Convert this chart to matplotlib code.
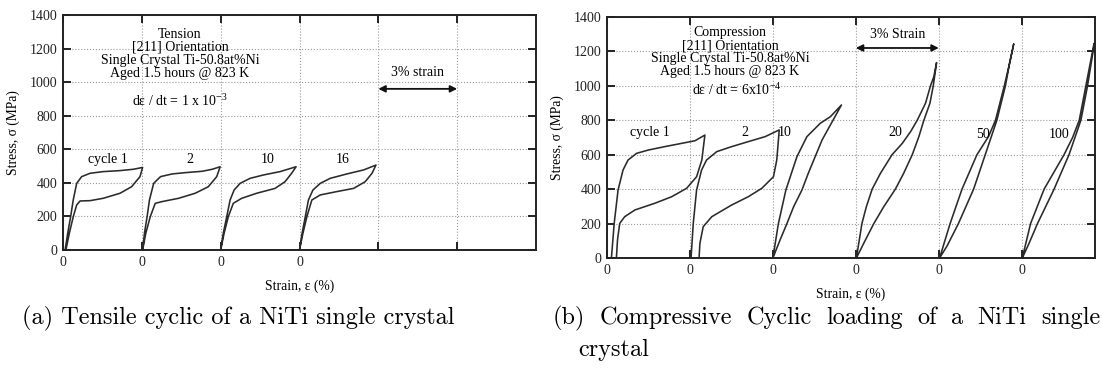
import matplotlib.pyplot as plt

plt.rcParams['font.family'] = ['Liberation Serif', 'DejaVu Serif']
plt.rcParams['mathtext.fontset'] = 'custom'
plt.rcParams['mathtext.rm'] = 'Liberation Serif'

# ---- tension, strain (%) within each cycle vs stress (MPa) ----
tension_labels = ['cycle 1', '2', '10', '16']
tension_offsets = [0, 3, 6, 9]

t1_load = [(0.08, 0), (0.18, 100), (0.29, 198), (0.39, 298), (0.52, 397), (0.71, 437),
           (1.03, 457), (1.53, 467), (2.17, 473), (2.68, 481), (3.03, 492)]
t1_unload = [(3.03, 492), (2.93, 437), (2.61, 377), (2.17, 338), (1.53, 308), (1.03, 294),
             (0.65, 292), (0.52, 268), (0.39, 198), (0.24, 99), (0.11, 0)]
t2_load = [(0.03, 0), (0.10, 100), (0.20, 198), (0.29, 298), (0.45, 397), (0.71, 437),
           (1.15, 453), (1.66, 461), (2.30, 469), (2.68, 481), (2.98, 496)]
t2_unload = [(2.98, 496), (2.85, 437), (2.53, 377), (2.03, 338), (1.40, 308), (0.76, 288),
             (0.51, 278), (0.32, 198), (0.15, 99), (0.03, 0)]
t10_load = [(0, 0), (0.10, 100), (0.23, 198), (0.36, 298), (0.51, 357), (0.74, 397),
            (1.12, 427), (1.63, 447), (2.26, 467), (2.87, 496)]
t10_unload = [(2.87, 496), (2.70, 457), (2.45, 407), (2.07, 367), (1.37, 338), (0.80, 308),
              (0.48, 278), (0.29, 198), (0.13, 99), (0, 0)]
t16_load = [(0, 0), (0.10, 100), (0.22, 198), (0.34, 298), (0.51, 357), (0.79, 397),
            (1.17, 427), (1.80, 453), (2.44, 477), (2.91, 506)]
t16_unload = [(2.91, 506), (2.76, 457), (2.50, 407), (2.06, 367), (1.42, 348), (0.79, 328),
              (0.47, 298), (0.28, 198), (0.13, 99), (0, 0)]
tension_loops = [(t1_load, t1_unload), (t2_load, t2_unload),
                 (t10_load, t10_unload), (t16_load, t16_unload)]

# ---- compression ----
compression_labels = ['cycle 1', '2', '10', '20', '50', '100']
compression_offsets = [0, 3, 6, 9, 12, 15]

c1_load = [(0.16, 0), (0.21, 100), (0.26, 201), (0.40, 395), (0.58, 511), (0.76, 569),
           (1.07, 608), (1.49, 627), (2.09, 647), (2.70, 666), (3.18, 681), (3.54, 714)]
c1_unload = [(3.54, 714), (3.43, 569), (3.24, 472), (2.88, 405), (2.34, 356), (1.73, 318),
             (1.01, 279), (0.64, 240), (0.46, 201), (0.38, 105), (0.34, 0)]
c2_load = [(0.04, 0), (0.12, 201), (0.24, 395), (0.42, 511), (0.60, 569), (0.97, 618),
           (1.51, 647), (2.11, 676), (2.72, 705), (3.23, 744)]
c2_unload = [(3.23, 744), (3.14, 569), (3.02, 472), (2.60, 405), (2.11, 356), (1.51, 308),
             (0.79, 240), (0.48, 182), (0.36, 85), (0.33, 0)]
c10_load = [(0, 0), (0.20, 201), (0.47, 395), (0.87, 589), (1.23, 705), (1.71, 782),
            (2.08, 821), (2.48, 889)]
c10_unload = [(2.48, 889), (1.78, 686), (1.53, 589), (1.28, 492), (1.05, 395), (0.75, 298),
              (0.51, 201), (0.26, 105), (0, 0)]
c20_load = [(0.02, 0), (0.22, 200), (0.38, 298), (0.59, 400), (0.89, 492), (1.31, 600),
            (1.68, 666), (1.98, 734), (2.22, 800), (2.52, 899), (2.70, 1000), (2.82, 1053),
            (2.92, 1135)]
c20_unload = [(2.92, 1135), (2.80, 1000), (2.68, 899), (2.46, 800), (2.28, 705), (2.04, 600),
              (1.73, 492), (1.43, 400), (1.01, 298), (0.65, 200), (0.30, 90), (0.02, 0)]
c50_load = [(0.03, 0), (0.41, 200), (0.84, 400), (1.38, 600), (1.80, 706), (2.05, 800),
            (2.37, 1000), (2.56, 1131), (2.71, 1243)]
c50_unload = [(2.71, 1243), (2.56, 1131), (2.41, 1000), (2.10, 800), (1.68, 600),
              (1.26, 400), (0.71, 200), (0.30, 70), (0.03, 0)]
c100_load = [(0.02, 0), (0.32, 200), (0.81, 400), (1.53, 600), (1.84, 700), (2.08, 800),
             (2.32, 1000), (2.56, 1200), (2.62, 1247)]
c100_unload = [(2.62, 1247), (2.58, 1200), (2.38, 1000), (2.14, 800), (1.71, 600),
               (1.17, 400), (0.57, 200), (0.25, 80), (0.02, 0)]
compression_loops = [(c1_load, c1_unload), (c2_load, c2_unload), (c10_load, c10_unload),
                     (c20_load, c20_unload), (c50_load, c50_unload), (c100_load, c100_unload)]

tension_label_pos = [(1.71, 540), (4.83, 540), (7.8, 540), (10.66, 540)]
compression_label_pos = [(1.55, 728), (4.99, 728), (6.44, 728), (10.43, 728),
                         (13.6, 720), (16.35, 720)]

line_color = '#2b2b2b'
fs = 10


def draw_loops(ax, loops, offsets):
    for (load, unload), off in zip(loops, offsets):
        pts = load + unload[1:]
        ax.plot([off + p[0] for p in pts], [p[1] for p in pts], color=line_color, lw=1.15)


def style_axes(ax, xmax, zero_ticks):
    ax.set_xlim(0, xmax)
    ax.set_ylim(0, 1400)
    ax.set_yticks(range(0, 1401, 200))
    ax.set_xticks([0, 3, 6, 9, 12, 15])
    ax.set_xticklabels(['0' if i < zero_ticks else '' for i in range(6)])
    ax.grid(True, ls=':', color='#9a9a9a', lw=0.8)
    ax.tick_params(direction='in', top=True, right=True, length=6, width=1.4,
                   labelsize=10, pad=4, colors='#222222')
    for s in ax.spines.values():
        s.set_linewidth(1.4)
        s.set_color('#222222')
    ax.set_ylabel('Stress, σ (MPa)', fontsize=9.8, labelpad=7)
    ax.set_xlabel('Strain, ε (%)', fontsize=9.8, labelpad=8)


def justified_line(fig, words, x0, x1, y, **kw):
    # spread the words of one caption line between x0 and x1 (pixels)
    r = fig.canvas.get_renderer()
    texts = [fig.text(0, y, w, **kw) for w in words]
    widths = [t.get_window_extent(r).width for t in texts]
    gap = (x1 - x0 - sum(widths)) / (len(words) - 1)
    x = x0
    for t, w in zip(texts, widths):
        t.set_x(x / fig.bbox.width)
        x += w + gap


fig = plt.figure(figsize=(11.02, 3.74), dpi=100)
ax1 = fig.add_axes([63 / 1102, 1 - 250 / 374, 473 / 1102, 235 / 374])
ax2 = fig.add_axes([607 / 1102, 1 - 258 / 374, 488 / 1102, 241 / 374])

# tension panel
style_axes(ax1, 18, 4)
draw_loops(ax1, tension_loops, tension_offsets)
for lab, (x, y) in zip(tension_labels, tension_label_pos):
    ax1.text(x, y, lab, ha='center', va='center', fontsize=fs)
ax1.text(4.45, 1170, 'Tension\n[211] Orientation\nSingle Crystal Ti-50.8at%Ni\nAged 1.5 hours @ 823 K',
         ha='center', va='center', fontsize=fs, linespacing=1.0)
ax1.text(4.45, 890, 'dε / dt = 1 x 10$^{\\mathregular{-3}}$', ha='center', va='center', fontsize=fs)
ax1.text(13.5, 1060, '3% strain', ha='center', va='center', fontsize=fs)
ax1.annotate('', xy=(15, 960), xytext=(12, 960),
             arrowprops=dict(arrowstyle='<|-|>', color='#111111', lw=1.3,
                             mutation_scale=10, shrinkA=0, shrinkB=0))

# compression panel
style_axes(ax2, 17.65, 6)
draw_loops(ax2, compression_loops, compression_offsets)
for lab, (x, y) in zip(compression_labels, compression_label_pos):
    ax2.text(x, y, lab, ha='center', va='center', fontsize=fs)
ax2.text(4.45, 1195, 'Compression\n[211] Orientation\nSingle Crystal Ti-50.8at%Ni\nAged 1.5 hours @ 823 K',
         ha='center', va='center', fontsize=fs, linespacing=1.0)
ax2.text(4.7, 976, 'dε / dt = 6x10$^{\\mathregular{-4}}$', ha='center', va='center', fontsize=fs)
ax2.text(10.5, 1300, '3% Strain', ha='center', va='center', fontsize=fs)
ax2.annotate('', xy=(12, 1220), xytext=(9, 1220),
             arrowprops=dict(arrowstyle='<|-|>', color='#111111', lw=1.3,
                             mutation_scale=10, shrinkA=0, shrinkB=0))

# captions
cap = dict(family='cmr10', fontsize=17.5, va='center', ha='left')
fig.text(22 / 1102, 1 - 318 / 374, '(a) Tensile cyclic of a NiTi single crystal', **cap)
justified_line(fig, '(b) Compressive Cyclic loading of a NiTi single'.split(),
               553, 1100, 1 - 318 / 374, **cap)
fig.text(578 / 1102, 1 - 350 / 374, 'crystal', **cap)

fig.savefig('out.png', dpi=100)
